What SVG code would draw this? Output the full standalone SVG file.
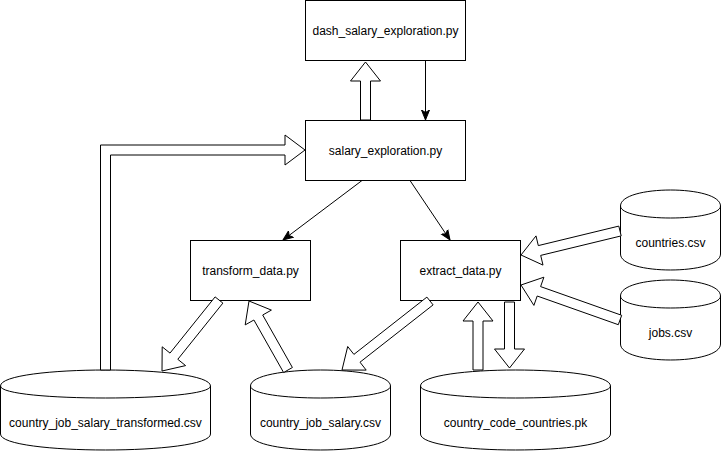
<svg xmlns="http://www.w3.org/2000/svg" width="721" height="451" viewBox="0 0 721 451">
<style>
.box{fill:#fff;stroke:#000;stroke-width:1}
.cyl{fill:#fff;stroke:#000;stroke-width:1}
.arc{fill:none;stroke:#000;stroke-width:1}
.lbl{font-family:"Liberation Sans",Arial,Helvetica,sans-serif;font-size:12px;fill:#000;text-anchor:middle}
.line{fill:none;stroke:#000;stroke-width:1}
.flex{fill:#fff;stroke:#000;stroke-width:1;stroke-linejoin:miter}
</style>
<defs>
<marker id="arr" markerUnits="userSpaceOnUse" markerWidth="12" markerHeight="10" viewBox="0 0 12 10" refX="10" refY="5" orient="auto">
<path d="M0,1 L10,5 L0,9 L2.5,5 Z" fill="#000" stroke="#000" stroke-width="1"/>
</marker>
</defs>
<rect width="721" height="451" fill="#fff"/>
<g id="dash">
<rect class="box" x="305.5" y="0.5" width="160" height="60"/>
<text class="lbl" x="385.5" y="34.5">dash_salary_exploration.py</text>
</g>
<g id="salary">
<rect class="box" x="305.5" y="120.5" width="160" height="60"/>
<text class="lbl" x="385.5" y="154.5">salary_exploration.py</text>
</g>
<g id="transform">
<rect class="box" x="190.5" y="240.5" width="120" height="60"/>
<text class="lbl" x="250.5" y="274.5">transform_data.py</text>
</g>
<g id="extract">
<rect class="box" x="400.5" y="240.5" width="120" height="60"/>
<text class="lbl" x="460.5" y="274.5">extract_data.py</text>
</g>
<g id="countries">
<path class="cyl" d="M620.5,206 C620.5,184.67 720.5,184.67 720.5,206 L720.5,254 C720.5,275.33 620.5,275.33 620.5,254 Z"/>
<path class="arc" d="M620.5,206 C620.5,222 720.5,222 720.5,206"/>
<text class="lbl" x="670.5" y="246.5">countries.csv</text>
</g>
<g id="jobs">
<path class="cyl" d="M620.5,296 C620.5,274.67 720.5,274.67 720.5,296 L720.5,344 C720.5,365.33 620.5,365.33 620.5,344 Z"/>
<path class="arc" d="M620.5,296 C620.5,312 720.5,312 720.5,296"/>
<text class="lbl" x="670.5" y="336.5">jobs.csv</text>
</g>
<g id="transformed">
<path class="cyl" d="M0.5,386 C0.5,364.67 210.5,364.67 210.5,386 L210.5,434 C210.5,455.33 0.5,455.33 0.5,434 Z"/>
<path class="arc" d="M0.5,386 C0.5,402 210.5,402 210.5,386"/>
<text class="lbl" x="105.5" y="426.5">country_job_salary_transformed.csv</text>
</g>
<g id="cjs">
<path class="cyl" d="M250.5,386 C250.5,364.67 390.5,364.67 390.5,386 L390.5,434 C390.5,455.33 250.5,455.33 250.5,434 Z"/>
<path class="arc" d="M250.5,386 C250.5,402 390.5,402 390.5,386"/>
<text class="lbl" x="320.5" y="426.5">country_job_salary.csv</text>
</g>
<g id="ccc">
<path class="cyl" d="M420.5,386 C420.5,364.67 610.5,364.67 610.5,386 L610.5,434 C610.5,455.33 420.5,455.33 420.5,434 Z"/>
<path class="arc" d="M420.5,386 C420.5,402 610.5,402 610.5,386"/>
<text class="lbl" x="515.5" y="426.5">country_code_countries.pk</text>
</g>
<g id="connectors">
<path class="line" d="M425.5,60.5 L425.5,120" marker-end="url(#arr)"/>
<path class="line" d="M362,180.5 L283,240" marker-end="url(#arr)"/>
<path class="line" d="M410,180.5 L450,240" marker-end="url(#arr)"/>
<polygon class="flex" points="360.5,120 360.5,81 350.5,81 365.5,62 380.5,81 370.5,81 370.5,120"/>
<polygon class="flex" points="100.5,370 100.5,145 285,145 285,135 305,150 285,165 285,155 110.5,155 110.5,370"/>
<polygon class="flex" points="222.9,303.1 177.8,359.3 185.6,365.6 162,371 162.2,346.8 170,353.1 215.1,296.9"/>
<polygon class="flex" points="292.4,367.5 262.7,315 271.4,310.1 249,301 245.2,324.9 253.9,320 283.6,372.5"/>
<polygon class="flex" points="433.1,304.9 360,362.2 366.2,370.1 342,370 347.7,346.5 353.9,354.4 426.9,297.1"/>
<polygon class="flex" points="473,370 473,321 463,321 478,302 493,321 483,321 483,370"/>
<polygon class="flex" points="504.5,302 504.5,349 494.5,349 509.5,368 524.5,349 514.5,349 514.5,302"/>
<polygon class="flex" points="621.2,235.9 540.7,255.4 543,265.1 521,255 536,235.9 538.3,245.6 618.8,226.1"/>
<polygon class="flex" points="621.7,315.3 540.6,286.6 543.9,277.2 521,285 533.9,305.4 537.2,296 618.3,324.7"/>
</g>
</svg>
